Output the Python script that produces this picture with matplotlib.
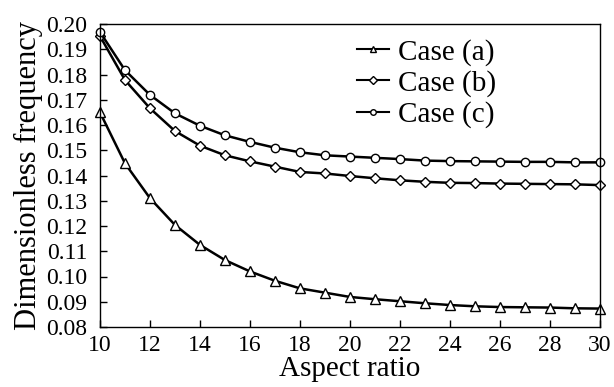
import numpy as np
import matplotlib.pyplot as plt

plt.rcParams['font.family'] = ['Liberation Serif', 'DejaVu Serif']

aspect = np.arange(10, 31)

# Case (a): triangles
case_a = [0.165, 0.1448, 0.131, 0.1204, 0.1125, 0.1065, 0.102, 0.0983, 0.0953, 0.0936,
          0.0919, 0.091, 0.0902, 0.0894, 0.0887, 0.0882, 0.0879, 0.0878, 0.0877, 0.0874, 0.0873]
# Case (b): diamonds
case_b = [0.1952, 0.1778, 0.1666, 0.1576, 0.1518, 0.148, 0.1456, 0.1435, 0.1414, 0.1408,
          0.1398, 0.1389, 0.1381, 0.1375, 0.1371, 0.137, 0.1368, 0.1367, 0.1366, 0.1365, 0.1362]
# Case (c): circles
case_c = [0.1968, 0.1817, 0.1719, 0.1646, 0.1597, 0.1559, 0.1533, 0.151, 0.1492, 0.148,
          0.1475, 0.147, 0.1465, 0.1459, 0.1457, 0.1456, 0.1455, 0.1454, 0.1454, 0.1452, 0.1452]

fig = plt.figure(figsize=(6.14, 3.87), dpi=100)
ax = fig.add_axes([100 / 614, 1 - 327 / 387, 500 / 614, 303 / 387])

style = dict(color='black', lw=1.8, mfc='white', mec='black', mew=1.0, clip_on=False)
ax.plot(aspect, case_a, marker='^', ms=6.5, label='Case (a)', **style)
ax.plot(aspect, case_b, marker='D', ms=5, label='Case (b)', **style)
ax.plot(aspect, case_c, marker='o', ms=6, label='Case (c)', **style)

ax.set_xlim(10, 30)
ax.set_ylim(0.08, 0.20)
ax.set_xticks(np.arange(10, 31, 2))
ax.set_yticks(np.arange(0.08, 0.2001, 0.01))
ax.set_yticklabels(['%.2f' % v for v in np.arange(0.08, 0.2001, 0.01)])
ax.tick_params(direction='in', length=5, width=1, labelsize=17, top=False, right=False)
ax.tick_params(axis='y', pad=9)
ax.tick_params(axis='x', pad=6)
for s in ax.spines.values():
    s.set_linewidth(1.0)

ax.set_xlabel('Aspect ratio', fontsize=21, labelpad=0)
ax.set_ylabel('Dimensionless frequency', fontsize=22, labelpad=2)

leg = ax.legend(loc='upper left', bbox_to_anchor=(0.49, 0.99), frameon=False, fontsize=21,
                handlelength=1.1, handletextpad=0.3, labelspacing=0.15, borderaxespad=0)
for h in leg.legend_handles:
    h.set_markersize(4)
    h.set_linewidth(1.5)

fig.savefig('out.png', dpi=100)
